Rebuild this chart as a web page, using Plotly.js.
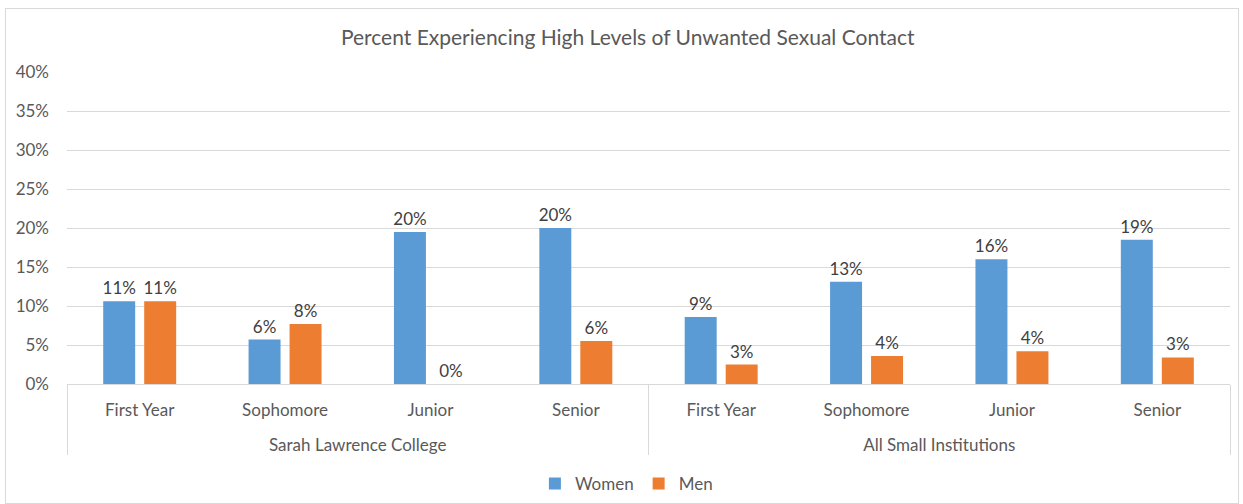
<!DOCTYPE html>
<html>
<head>
<meta charset="utf-8">
<script src="https://cdn.plot.ly/plotly-3.0.1.min.js"></script>
<style>
  html, body { margin: 0; padding: 0; background: #fff; }
  #wrap { position: relative; width: 1243px; height: 504px; }
  #chart { position: absolute; left: 0; top: 0; width: 1243px; height: 504px; }
  #frame { position: absolute; left: 5px; top: 8px; width: 1232px; height: 494px;
           border: 1px solid #d9d9d9; pointer-events: none; }
</style>
</head>
<body>
<div id="wrap">
  <div id="chart"></div>
  <div id="frame"></div>
</div>
<script>
// ---- data ----
const groups = ['Sarah Lawrence College', 'Sarah Lawrence College', 'Sarah Lawrence College', 'Sarah Lawrence College',
                'All Small Institutions', 'All Small Institutions', 'All Small Institutions', 'All Small Institutions'];
const classes = ['First Year', 'Sophomore', 'Junior', 'Senior',
                 'First Year', 'Sophomore', 'Junior', 'Senior'];
const women = [0.106, 0.057, 0.195, 0.200, 0.086, 0.131, 0.160, 0.185];
const men   = [0.106, 0.077, 0.000, 0.055, 0.025, 0.036, 0.042, 0.034];
const seriesNames = ['Women', 'Men'];
const chartTitle = 'Percent Experiencing High Levels of Unwanted Sexual Contact';

// ---- style ----
const FONT = 'Lato, "Open Sans", sans-serif';
const GREY = '#595959';
const colors = ['#5b9bd5', '#ed7d31'];

// outer-level labels sit one line lower, as in the reference
const groupLabels = groups.map(g => '<br>' + g);

const traces = [women, men].map((vals, i) => ({
  type: 'bar',
  name: seriesNames[i],
  x: [groupLabels, classes],
  y: vals,
  marker: { color: colors[i] },
  texttemplate: '%{y:.0%}',
  textposition: 'outside',
  constraintext: 'none',
  cliponaxis: false,
  textfont: { family: FONT, size: 17, color: '#404040' },
  hoverinfo: 'skip'
}));

const layout = {
  width: 1243,
  height: 504,
  margin: { l: 67, r: 13, t: 72, b: 120, autoexpand: false },
  paper_bgcolor: 'rgba(0,0,0,0)',
  plot_bgcolor: 'rgba(0,0,0,0)',
  font: { family: FONT, color: GREY, size: 16 },
  title: {
    text: chartTitle,
    font: { family: FONT, size: 21, color: GREY },
    x: 0.505, xanchor: 'center', xref: 'container',
    y: 0.925, yanchor: 'middle', yref: 'container'
  },
  barmode: 'group',
  bargap: 0.436,
  bargroupgap: 0.22,
  showlegend: true,
  legend: {
    orientation: 'h',
    x: 0.481, xanchor: 'center',
    y: 0.04, yanchor: 'middle', yref: 'container',
    font: { family: FONT, size: 17, color: GREY },
    itemwidth: 30,
    traceorder: 'normal'
  },
  xaxis: {
    type: 'multicategory',
    showline: true,
    linecolor: '#d9d9d9',
    linewidth: 1,
    showgrid: false,
    ticks: '',
    showdividers: true,
    dividercolor: '#d9d9d9',
    dividerwidth: 1,
    ticklabelstandoff: 11,
    tickfont: { family: FONT, size: 17, color: GREY },
    fixedrange: true
  },
  yaxis: {
    range: [0, 0.4],
    dtick: 0.05,
    tickformat: '.0%',
    showgrid: true,
    gridcolor: '#d9d9d9',
    gridwidth: 1,
    zeroline: false,
    showline: false,
    ticks: '',
    ticklabelstandoff: 17,
    tickfont: { family: FONT, size: 17, color: GREY },
    fixedrange: true
  }
};

Plotly.newPlot('chart', traces, layout, { staticPlot: true, displayModeBar: false });
</script>
</body>
</html>
